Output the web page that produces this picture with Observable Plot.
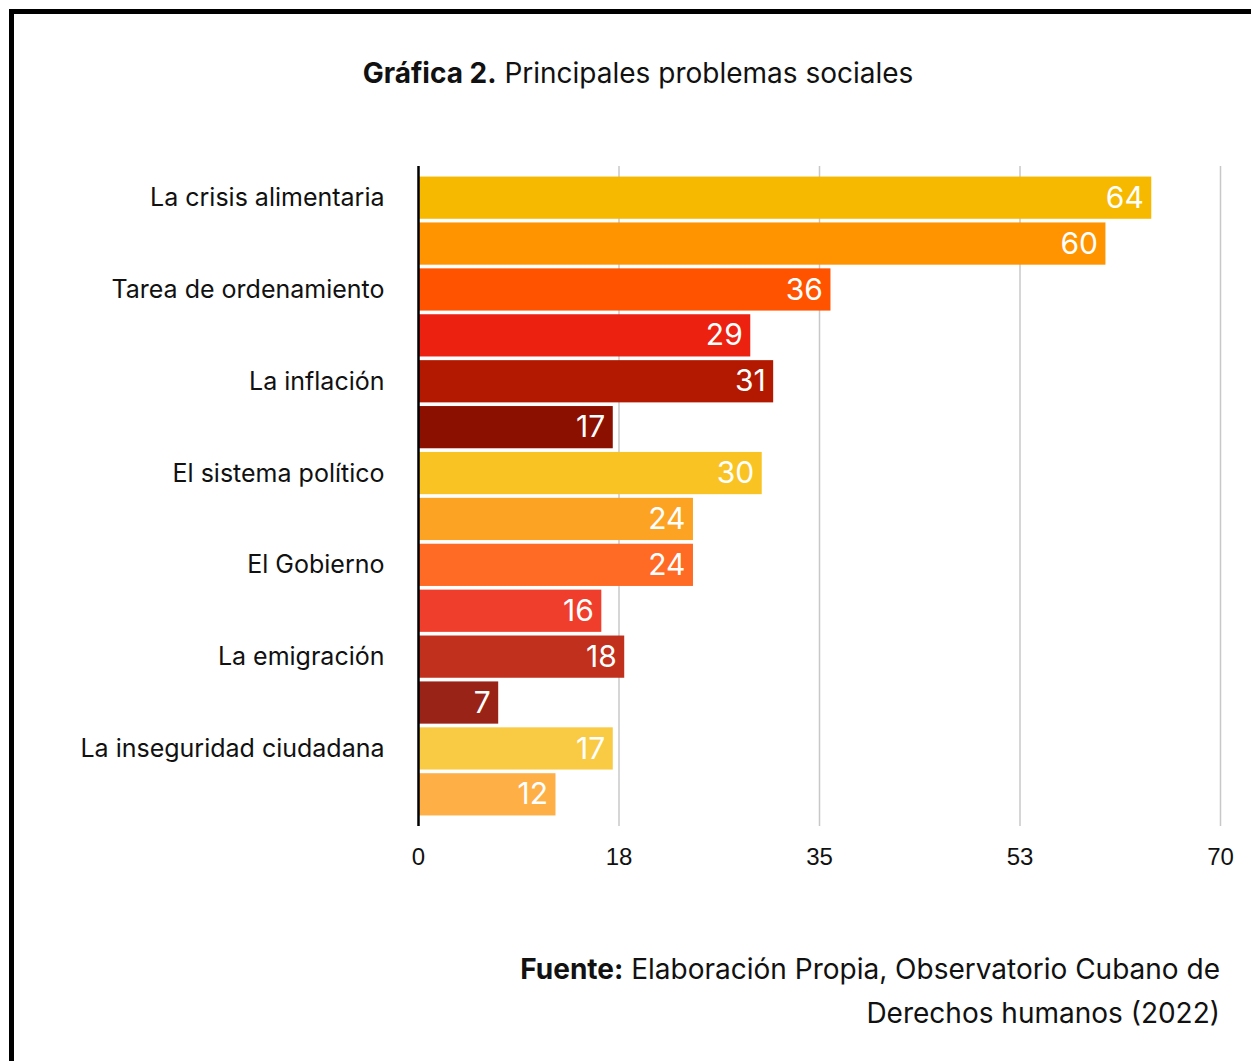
<!DOCTYPE html>
<html><head><meta charset="utf-8">
<script src="https://cdn.jsdelivr.net/npm/d3@7"></script>
<script src="https://cdn.jsdelivr.net/npm/@observablehq/plot@0.6"></script>
<style>
body{margin:0;background:#fff;}
#page{position:relative;width:1251px;height:1061px;overflow:hidden;font-family:Inter, "Noto Sans", sans-serif;color:#111;}
#frame{position:absolute;left:9px;top:9px;width:1300px;height:1100px;border-top:5px solid #000;border-left:5px solid #000;}
#title{position:absolute;left:0;width:1276px;top:55px;text-align:center;font-size:28px;line-height:36px;}
#chart{position:absolute;left:0;top:0;}
#source{position:absolute;right:31px;top:947px;text-align:right;font-size:28px;line-height:44px;}
</style></head>
<body>
<div id="page">
  <div id="frame"></div>
  <div id="chart"></div>
  <div id="title"><b>Gráfica 2.</b> Principales problemas sociales</div>
  <div id="source"><b>Fuente:</b> Elaboración Propia, Observatorio Cubano de<br>Derechos humanos (2022)</div>
</div>
<script>
const categories = ["La crisis alimentaria","Tarea de ordenamiento","La inflación","El sistema político","El Gobierno","La emigración","La inseguridad ciudadana"];
const seriesA = [64,36,31,30,24,18,17];
const seriesB = [60,29,17,24,16,7,12];
const colorsA = ["#F6B900","#FF5300","#B31900","#F9C423","#FF6A25","#C0301C","#F9CB44"];
const colorsB = ["#FF9300","#EC2110","#8B1000","#FDA324","#F03E2C","#992316","#FEAF46"];
const xTicks = [0,17.5,35,52.5,70];

const rows = [];
categories.forEach((c,i)=>{
  rows.push({key:c+"|A", value:seriesA[i], color:colorsA[i]});
  rows.push({key:c+"|B", value:seriesB[i], color:colorsB[i]});
});

const H = 900;
const chart = Plot.plot({
  width:1251, height:H,
  marginLeft:418, marginRight:31, marginTop:166, marginBottom:H-826,
  style:{fontFamily:"Inter, 'Noto Sans', sans-serif", color:"#111", background:"transparent"},
  x:{domain:[0,70]},
  y:{domain:rows.map(d=>d.key), paddingInner:0.08, paddingOuter:0.23, round:false},
  color:{type:"identity"},
  marks:[
    Plot.gridX(xTicks.slice(1),{stroke:"#c8c8c8", strokeOpacity:1, strokeWidth:1.5}),
    Plot.barX(rows,{x:"value", y:"key", fill:"color"}),
    Plot.ruleX([0],{stroke:"#000", strokeWidth:2.5}),
    Plot.text(rows,{x:"value", y:"key", text:d=>String(d.value), textAnchor:"end", dx:-8, fill:"#fff", fontSize:30}),
    Plot.axisX(xTicks,{tickSize:0, tickPadding:21, fontSize:24, tickFormat:d=>String(Math.round(d)), fontFamily:"'Liberation Sans Narrow', 'Liberation Sans', Arial, sans-serif", label:null}),
    Plot.axisY({tickSize:0, tickPadding:34, fontSize:25, tickFormat:k=>k.endsWith("|A")?k.split("|")[0]:"", label:null})
  ]
});
document.getElementById("chart").appendChild(chart);
</script>
</body></html>
